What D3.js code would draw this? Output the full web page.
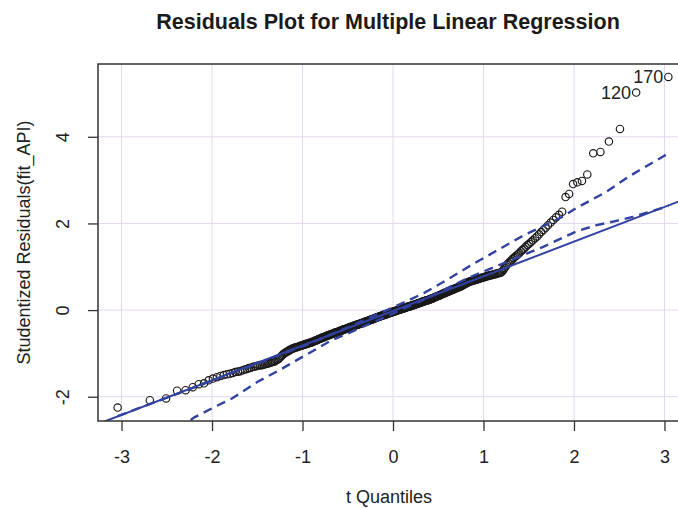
<!DOCTYPE html>
<html lang="en">
<head>
<meta charset="utf-8">
<title>Residuals Plot for Multiple Linear Regression</title>
<script src="https://cdn.jsdelivr.net/npm/d3@7"></script>
<style>
body { margin: 0; background: #fff; }
svg { display: block; font-family: "Liberation Sans", Arial, Helvetica, sans-serif; }
.grid line { stroke: #e4d8ec; stroke-width: 1; }
.axis text { font-size: 18px; fill: #222; }
.axis line { stroke: #333; stroke-width: 1.3; }
.pt { fill: none; stroke: #1a1a1a; stroke-width: 1.15; }
.fit { fill: none; stroke: #3142a0; stroke-width: 2; }
.env { fill: none; stroke: #3142a0; stroke-width: 2.4; stroke-dasharray: 9,6; }
</style>
</head>
<body>
<script>
// t quantiles (x) and sorted studentized residuals (y)
var tQuantiles = [
  -3.043,-2.687,-2.508,-2.386,-2.292,-2.213,-2.147,-2.088,-2.037,-1.990,-1.946,-1.907,-1.869,-1.834,-1.802,-1.771,-1.742,-1.713,-1.687,-1.661,
  -1.637,-1.614,-1.592,-1.570,-1.545,-1.525,-1.505,-1.486,-1.467,-1.449,-1.432,-1.414,-1.397,-1.381,-1.365,-1.349,-1.333,-1.319,-1.304,-1.289,
  -1.275,-1.261,-1.247,-1.233,-1.220,-1.207,-1.194,-1.181,-1.169,-1.157,-1.145,-1.132,-1.121,-1.109,-1.098,-1.086,-1.075,-1.064,-1.053,-1.042,
  -1.031,-1.021,-1.010,-1.000,-0.990,-0.979,-0.969,-0.959,-0.949,-0.940,-0.930,-0.920,-0.911,-0.901,-0.892,-0.883,-0.873,-0.864,-0.855,-0.846,
  -0.837,-0.828,-0.820,-0.811,-0.802,-0.794,-0.785,-0.776,-0.768,-0.760,-0.751,-0.743,-0.735,-0.727,-0.719,-0.710,-0.702,-0.694,-0.686,-0.678,
  -0.671,-0.663,-0.655,-0.647,-0.640,-0.632,-0.624,-0.617,-0.609,-0.602,-0.594,-0.587,-0.579,-0.572,-0.564,-0.557,-0.550,-0.543,-0.535,-0.528,
  -0.521,-0.514,-0.507,-0.500,-0.492,-0.485,-0.478,-0.471,-0.464,-0.457,-0.450,-0.443,-0.437,-0.430,-0.423,-0.416,-0.409,-0.402,-0.396,-0.389,
  -0.382,-0.375,-0.369,-0.362,-0.355,-0.349,-0.342,-0.335,-0.329,-0.322,-0.315,-0.309,-0.302,-0.296,-0.289,-0.283,-0.276,-0.270,-0.263,-0.257,
  -0.250,-0.244,-0.237,-0.231,-0.224,-0.218,-0.212,-0.205,-0.199,-0.192,-0.186,-0.180,-0.173,-0.167,-0.161,-0.154,-0.148,-0.142,-0.135,-0.129,
  -0.122,-0.116,-0.110,-0.104,-0.097,-0.091,-0.085,-0.078,-0.072,-0.066,-0.060,-0.053,-0.047,-0.041,-0.035,-0.028,-0.022,-0.016,-0.009,-0.003,
  0.003,0.009,0.016,0.022,0.028,0.035,0.041,0.047,0.053,0.060,0.066,0.072,0.078,0.085,0.091,0.097,0.104,0.110,0.116,0.122,
  0.129,0.135,0.142,0.148,0.154,0.161,0.167,0.173,0.180,0.186,0.192,0.199,0.205,0.212,0.218,0.224,0.231,0.237,0.244,0.250,
  0.257,0.263,0.270,0.276,0.283,0.289,0.296,0.302,0.309,0.315,0.322,0.329,0.335,0.342,0.349,0.355,0.362,0.369,0.375,0.382,
  0.389,0.396,0.402,0.409,0.416,0.423,0.430,0.437,0.443,0.450,0.457,0.464,0.471,0.478,0.485,0.492,0.500,0.507,0.514,0.521,
  0.528,0.535,0.543,0.550,0.557,0.564,0.572,0.579,0.587,0.594,0.602,0.609,0.617,0.624,0.632,0.640,0.647,0.655,0.663,0.671,
  0.678,0.686,0.694,0.702,0.710,0.719,0.727,0.735,0.743,0.751,0.760,0.768,0.776,0.785,0.794,0.802,0.811,0.820,0.828,0.837,
  0.846,0.855,0.864,0.873,0.883,0.892,0.901,0.911,0.920,0.930,0.940,0.949,0.959,0.969,0.979,0.990,1.000,1.010,1.021,1.031,
  1.042,1.053,1.064,1.075,1.086,1.098,1.109,1.121,1.132,1.145,1.157,1.169,1.181,1.194,1.207,1.220,1.233,1.247,1.261,1.275,
  1.289,1.304,1.319,1.333,1.349,1.365,1.381,1.397,1.414,1.432,1.449,1.467,1.486,1.505,1.525,1.545,1.570,1.592,1.614,1.637,
  1.661,1.687,1.713,1.742,1.771,1.802,1.834,1.869,1.907,1.946,1.990,2.037,2.088,2.147,2.213,2.292,2.386,2.508,2.687,3.043
];

var studRes = [
  -2.25,-2.08,-2.04,-1.86,-1.85,-1.78,-1.71,-1.69,-1.62,-1.58,-1.55,-1.52,-1.50,-1.48,-1.47,-1.45,-1.43,-1.42,-1.41,-1.39,
  -1.37,-1.36,-1.34,-1.33,-1.31,-1.30,-1.29,-1.28,-1.27,-1.27,-1.26,-1.25,-1.24,-1.23,-1.22,-1.21,-1.20,-1.19,-1.18,-1.16,
  -1.14,-1.12,-1.09,-1.06,-1.03,-1.01,-0.99,-0.97,-0.96,-0.94,-0.93,-0.91,-0.90,-0.89,-0.88,-0.87,-0.86,-0.86,-0.85,-0.84,
  -0.83,-0.83,-0.82,-0.81,-0.80,-0.80,-0.79,-0.78,-0.78,-0.77,-0.76,-0.76,-0.75,-0.74,-0.74,-0.73,-0.72,-0.71,-0.70,-0.70,
  -0.69,-0.68,-0.67,-0.66,-0.66,-0.65,-0.64,-0.63,-0.63,-0.62,-0.61,-0.61,-0.60,-0.59,-0.59,-0.58,-0.57,-0.57,-0.56,-0.55,
  -0.55,-0.54,-0.54,-0.53,-0.52,-0.52,-0.51,-0.51,-0.50,-0.50,-0.49,-0.48,-0.48,-0.47,-0.47,-0.46,-0.45,-0.45,-0.44,-0.44,
  -0.43,-0.43,-0.42,-0.42,-0.41,-0.40,-0.40,-0.39,-0.39,-0.38,-0.38,-0.37,-0.37,-0.36,-0.36,-0.35,-0.35,-0.34,-0.34,-0.33,
  -0.33,-0.32,-0.32,-0.31,-0.31,-0.30,-0.30,-0.29,-0.29,-0.28,-0.28,-0.27,-0.27,-0.26,-0.26,-0.25,-0.25,-0.24,-0.24,-0.23,
  -0.23,-0.22,-0.22,-0.21,-0.21,-0.20,-0.20,-0.19,-0.19,-0.18,-0.18,-0.17,-0.17,-0.16,-0.16,-0.15,-0.15,-0.14,-0.14,-0.13,
  -0.13,-0.12,-0.12,-0.11,-0.11,-0.11,-0.10,-0.10,-0.09,-0.09,-0.08,-0.08,-0.07,-0.07,-0.06,-0.06,-0.06,-0.05,-0.05,-0.04,
  -0.04,-0.03,-0.03,-0.02,-0.02,-0.02,-0.01,-0.01,0.00,0.00,0.01,0.01,0.02,0.02,0.02,0.03,0.03,0.04,0.04,0.05,
  0.05,0.05,0.06,0.06,0.07,0.07,0.08,0.08,0.08,0.09,0.09,0.10,0.10,0.11,0.11,0.11,0.12,0.12,0.13,0.13,
  0.14,0.14,0.15,0.15,0.16,0.16,0.17,0.17,0.18,0.18,0.19,0.19,0.20,0.20,0.21,0.21,0.22,0.22,0.22,0.23,
  0.23,0.24,0.24,0.25,0.25,0.26,0.27,0.27,0.28,0.28,0.29,0.30,0.30,0.31,0.32,0.32,0.33,0.33,0.34,0.35,
  0.35,0.36,0.37,0.37,0.38,0.39,0.39,0.40,0.41,0.41,0.42,0.43,0.43,0.44,0.45,0.45,0.46,0.47,0.47,0.48,
  0.49,0.50,0.50,0.51,0.52,0.52,0.53,0.54,0.54,0.55,0.56,0.57,0.58,0.59,0.60,0.61,0.62,0.63,0.64,0.65,
  0.66,0.66,0.67,0.67,0.68,0.69,0.69,0.70,0.70,0.71,0.72,0.72,0.73,0.74,0.74,0.75,0.76,0.76,0.77,0.78,
  0.78,0.79,0.80,0.80,0.81,0.81,0.82,0.83,0.83,0.84,0.85,0.85,0.86,0.87,0.89,0.93,0.97,1.01,1.05,1.08,
  1.11,1.14,1.17,1.20,1.23,1.26,1.29,1.32,1.36,1.39,1.42,1.46,1.50,1.53,1.57,1.61,1.66,1.70,1.75,1.80,
  1.85,1.90,1.96,2.02,2.08,2.14,2.20,2.27,2.61,2.68,2.91,2.95,2.98,3.13,3.62,3.65,3.89,4.18,5.02,5.38
];

// labelled outliers (index into the arrays above)
var labelIndex = [398, 399];
var labelText = ["120", "170"];

// robust fit line: intercept, slope
var fitLine = [-0.02, 0.80];

// dashed envelope lines
var upperX = [-3.043, -2.6, -2.19, -1.99, -1.78, -1.5, -1.25, -1.0, -0.7, -0.5, -0.18, 0, 0.335, 0.59, 0.85, 1.11, 1.44, 1.85, 2.03, 2.35, 2.62, 2.98, 3.043];
var upperY = [-2.45, -2.10, -1.78, -1.62, -1.45, -1.24, -1.03, -0.84, -0.58, -0.40, -0.10, 0.06, 0.385, 0.69, 1.02, 1.33, 1.72, 2.13, 2.36, 2.72, 3.10, 3.54, 3.62];
var lowerX = [-3.043, -2.6, -2.19, -1.985, -1.78, -1.5, -1.25, -1.0, -0.7, -0.5, 0, 0.4, 0.67, 0.85, 1.22, 1.66, 2.03, 2.25, 2.47, 2.65, 3.043];
var lowerY = [-3.75, -3.05, -2.47, -2.25, -2.04, -1.66, -1.38, -1.08, -0.72, -0.54, -0.08, 0.30, 0.58, 0.76, 1.08, 1.46, 1.82, 1.96, 2.06, 2.15, 2.40];

var xTicks = [-3, -2, -1, 0, 1, 2, 3];
var yTicks = [-2, 0, 2, 4];

if (tQuantiles.length !== studRes.length) console.error("length mismatch", tQuantiles.length, studRes.length);

var W = 678, H = 508;
var plot = { left: 98, right: 688, top: 64, bottom: 421 };

var x = d3.scaleLinear().domain([-3.26, 3.26]).range([plot.left, plot.right]);
var y = d3.scaleLinear().domain([-2.56, 5.68]).range([plot.bottom, plot.top]);

var svg = d3.select("body").append("svg")
    .attr("width", W)
    .attr("height", H);

svg.append("defs").append("clipPath")
    .attr("id", "clip")
  .append("rect")
    .attr("x", plot.left)
    .attr("y", plot.top)
    .attr("width", plot.right - plot.left)
    .attr("height", plot.bottom - plot.top);

var inner = svg.append("g").attr("clip-path", "url(#clip)");

//grid
var grid = inner.append("g").attr("class", "grid");
grid.selectAll(".gx")
    .data(xTicks)
    .enter().append("line")
    .attr("x1", function(d) { return x(d); })
    .attr("x2", function(d) { return x(d); })
    .attr("y1", plot.top)
    .attr("y2", plot.bottom);
grid.selectAll(".gy")
    .data(yTicks)
    .enter().append("line")
    .attr("x1", plot.left)
    .attr("x2", plot.right)
    .attr("y1", function(d) { return y(d); })
    .attr("y2", function(d) { return y(d); });

//points
var pts = tQuantiles.map(function(t, i) { return [t, studRes[i]]; });
inner.selectAll(".pt")
    .data(pts)
    .enter().append("circle")
    .attr("class", "pt")
    .attr("cx", function(d) { return x(d[0]); })
    .attr("cy", function(d) { return y(d[1]); })
    .attr("r", 3.7);

//fit line across the plot
var xd = x.domain();
inner.append("line")
    .attr("class", "fit")
    .attr("x1", x(xd[0]))
    .attr("y1", y(fitLine[0] + fitLine[1] * xd[0]))
    .attr("x2", x(xd[1]))
    .attr("y2", y(fitLine[0] + fitLine[1] * xd[1]));

//envelope
var line = d3.line()
    .x(function(d) { return x(d[0]); })
    .y(function(d) { return y(d[1]); });

inner.append("path")
    .attr("class", "env")
    .attr("d", line(upperX.map(function(v, i) { return [v, upperY[i]]; })));
inner.append("path")
    .attr("class", "env")
    .attr("d", line(lowerX.map(function(v, i) { return [v, lowerY[i]]; })));

//point labels
svg.selectAll(".lab")
    .data(labelIndex)
    .enter().append("text")
    .attr("x", function(d) { return x(tQuantiles[d]) - 5; })
    .attr("y", function(d) { return y(studRes[d]); })
    .attr("dy", "0.36em")
    .attr("text-anchor", "end")
    .style("font-size", "18px")
    .style("fill", "#222")
    .text(function(d, i) { return labelText[i]; });

//box
svg.append("rect")
    .attr("x", plot.left)
    .attr("y", plot.top)
    .attr("width", plot.right - plot.left)
    .attr("height", plot.bottom - plot.top)
    .style("fill", "none")
    .style("stroke", "#333")
    .style("stroke-width", 1.5);

//axes
var xAxis = d3.axisBottom(x).tickValues(xTicks).tickSize(10).tickPadding(19).tickFormat(d3.format("d"));
var gx = svg.append("g")
    .attr("class", "axis")
    .attr("transform", "translate(0," + plot.bottom + ")")
    .call(xAxis);
gx.select(".domain").remove();
gx.selectAll("text").text(function(d) { return d < 0 ? "-" + Math.abs(d) : d; });

var yAxis = d3.axisLeft(y).tickValues(yTicks).tickSize(10);
var gy = svg.append("g")
    .attr("class", "axis")
    .attr("transform", "translate(" + plot.left + ",0)")
    .call(yAxis);
gy.select(".domain").remove();
gy.selectAll("text")
    .attr("x", null)
    .attr("dy", null)
    .attr("text-anchor", "middle")
    .attr("transform", "translate(-29,0) rotate(-90)")
    .text(function(d) { return d < 0 ? "-" + Math.abs(d) : d; });

//titles
svg.append("text")
    .attr("x", (plot.left + plot.right) / 2 - 5)
    .attr("y", 29)
    .attr("text-anchor", "middle")
    .style("font-size", "21.5px")
    .style("font-weight", "bold")
    .style("fill", "#1a1a1a")
    .text("Residuals Plot for Multiple Linear Regression");

svg.append("text")
    .attr("x", (plot.left + plot.right) / 2 - 4)
    .attr("y", 503)
    .attr("text-anchor", "middle")
    .style("font-size", "18px")
    .style("fill", "#222")
    .text("t Quantiles");

svg.append("text")
    .attr("transform", "translate(30," + ((plot.top + plot.bottom) / 2) + ") rotate(-90)")
    .attr("text-anchor", "middle")
    .style("font-size", "18px")
    .style("fill", "#222")
    .text("Studentized Residuals(fit_API)");
</script>
</body>
</html>
